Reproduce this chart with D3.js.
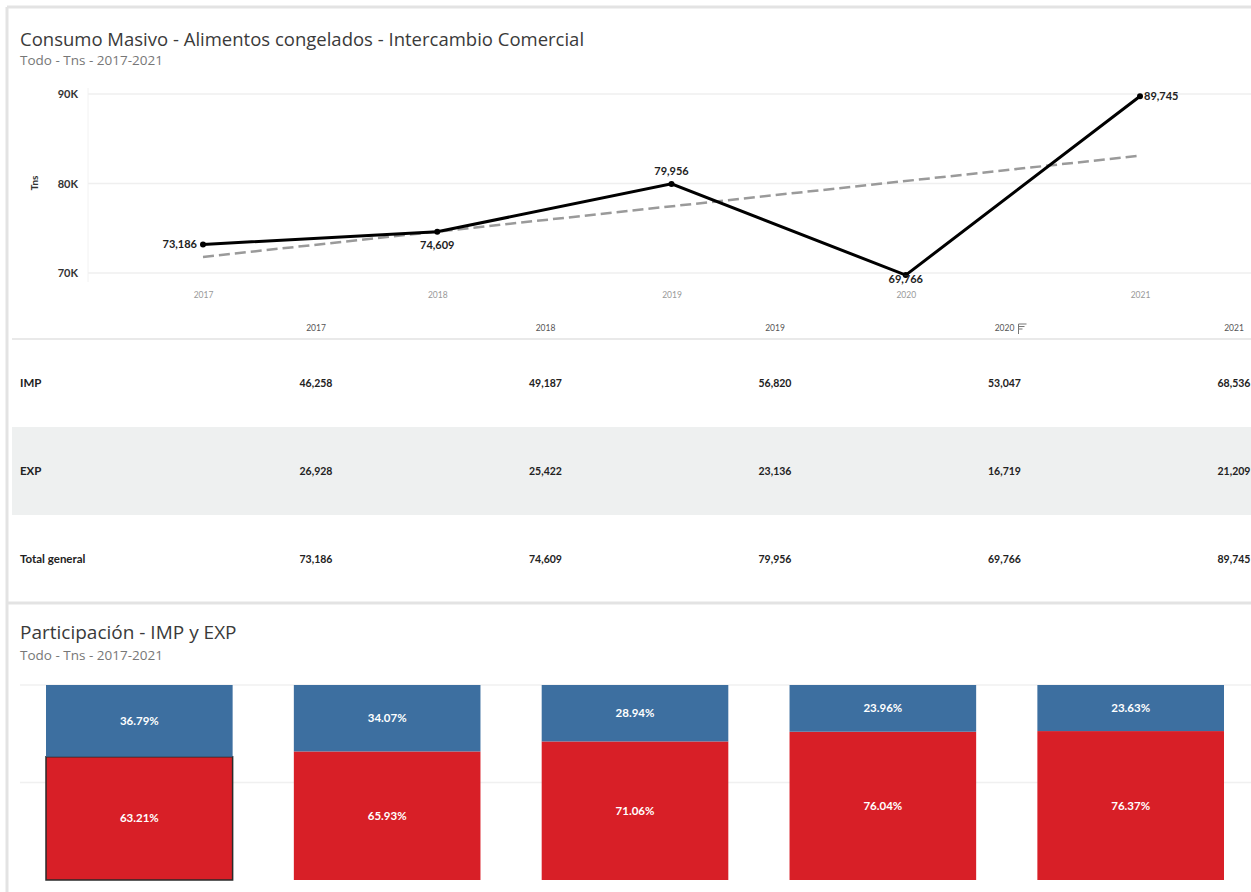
<!DOCTYPE html>
<html><head><meta charset="utf-8">
<script src="https://cdn.jsdelivr.net/npm/d3@7"></script>
<style>
html,body{margin:0;padding:0;background:#fff;}
svg{display:block;font-family:Lato,"Open Sans",sans-serif;}
</style></head>
<body>
<svg id="c" width="1251" height="892"></svg>
<script>
const years = ["2017","2018","2019","2020","2021"];
const impValues = [46258, 49187, 56820, 53047, 68536];
const expValues = [26928, 25422, 23136, 16719, 21209];
const totalValues = [73186, 74609, 79956, 69766, 89745];
const expShare = [36.79, 34.07, 28.94, 23.96, 23.63];
const impShare = [63.21, 65.93, 71.06, 76.04, 76.37];
const yTicks = [70000, 80000, 90000];
const rowLabels = ["IMP", "EXP", "Total general"];

const svg = d3.select("#c");
const fmt = d3.format(",");
const titleFont = "'Open Sans',sans-serif";

// frame
svg.append("rect").attr("x",0).attr("y",0).attr("width",1251).attr("height",892).attr("fill","#fff");
svg.append("line").attr("x1",7).attr("x2",1251).attr("y1",7).attr("y2",7).attr("stroke","#e3e3e3").attr("stroke-width",3);
svg.append("line").attr("x1",7).attr("x2",7).attr("y1",7).attr("y2",892).attr("stroke","#e3e3e3").attr("stroke-width",3);

// titles
svg.append("text").attr("x",20).attr("y",46).attr("font-family",titleFont).attr("font-size",18.5).attr("fill","#3a3a3a").text("Consumo Masivo - Alimentos congelados - Intercambio Comercial");
svg.append("text").attr("x",20).attr("y",65).attr("font-family",titleFont).attr("font-size",13.5).attr("fill","#777").text("Todo - Tns - 2017-2021");

// ---- line chart
const x = d3.scalePoint().domain(years).range([203, 1140]);
const y = d3.scaleLinear().domain([70000, 90000]).range([273, 94]);

const g = svg.append("g");
g.selectAll("line.grid").data(yTicks).join("line")
  .attr("x1",88).attr("x2",1251).attr("y1",d=>y(d)).attr("y2",d=>y(d))
  .attr("stroke","#efefef").attr("stroke-width",1.5);
g.append("line").attr("x1",88).attr("x2",88).attr("y1",88).attr("y2",282).attr("stroke","#f2f2f2");

const yAxis = d3.axisLeft(y).tickValues(yTicks).tickFormat(d=>(d/1000)+"K").tickSize(0).tickPadding(0);
const ya = g.append("g").attr("transform","translate(78,0)").call(yAxis);
ya.select(".domain").remove();
ya.selectAll("text").attr("font-size",11).attr("font-weight","bold").attr("fill","#333").attr("font-family","Lato,sans-serif");

g.append("text").attr("transform","translate(38,183) rotate(-90)").attr("text-anchor","middle")
  .attr("font-size",10).attr("font-weight","bold").attr("fill","#333").text("Tns");

const xAxis = d3.axisBottom(x).tickSize(0).tickPadding(0);
const xa = g.append("g").attr("transform","translate(0,292)").call(xAxis);
xa.select(".domain").remove();
xa.selectAll("text").attr("font-size",8.5).attr("fill","#999").attr("font-family","Lato,sans-serif");

// trend line (least squares over the series)
const n = totalValues.length;
const xi = d3.range(n);
const mx = d3.mean(xi), my = d3.mean(totalValues);
const slope = d3.sum(xi, i => (i-mx)*(totalValues[i]-my)) / d3.sum(xi, i => (i-mx)*(i-mx));
const icpt = my - slope*mx;
g.append("line")
  .attr("x1", x(years[0])).attr("y1", y(icpt))
  .attr("x2", x(years[n-1])).attr("y2", y(icpt + slope*(n-1)))
  .attr("stroke","#9a9a9a").attr("stroke-width",2.5).attr("stroke-dasharray","11,5");

const pts = years.map((yr,i)=>({yr, v: totalValues[i]}));
g.append("path").datum(pts)
  .attr("d", d3.line().x(d=>x(d.yr)).y(d=>y(d.v)))
  .attr("fill","none").attr("stroke","#000").attr("stroke-width",3).attr("stroke-linejoin","miter");
g.selectAll("circle.pt").data(pts).join("circle")
  .attr("cx",d=>x(d.yr)).attr("cy",d=>y(d.v)).attr("r",3).attr("fill","#000");

const labelPos = [
  {dx:-6, dy:4, anchor:"end"},
  {dx:0, dy:17, anchor:"middle"},
  {dx:0, dy:-9, anchor:"middle"},
  {dx:0, dy:8, anchor:"middle"},
  {dx:4, dy:4, anchor:"start"}
];
g.selectAll("text.lbl").data(pts).join("text")
  .attr("x",(d,i)=>x(d.yr)+labelPos[i].dx).attr("y",(d,i)=>y(d.v)+labelPos[i].dy)
  .attr("text-anchor",(d,i)=>labelPos[i].anchor)
  .attr("font-size",11).attr("font-weight","bold").attr("fill","#222").text(d=>fmt(d.v));

// ---- table
const tx = d3.scalePoint().domain(years).range([316, 1234]);
const t = svg.append("g");
t.selectAll("text.hdr").data(years).join("text")
  .attr("x",d=>tx(d)).attr("y",331).attr("text-anchor","middle")
  .attr("font-size",8.5).attr("fill","#555").text(d=>d);
// filter icon beside 2020
const fxp = tx("2020")+14;
[[0,8],[1,6],[2,4]].forEach(([k,w])=>{
  t.append("line").attr("x1",fxp).attr("x2",fxp+w).attr("y1",324+k*2.5).attr("y2",324+k*2.5).attr("stroke","#777").attr("stroke-width",1);
});
t.append("line").attr("x1",fxp).attr("x2",fxp).attr("y1",324).attr("y2",334).attr("stroke","#777");
t.append("line").attr("x1",12).attr("x2",1251).attr("y1",339).attr("y2",339).attr("stroke","#e2e2e2").attr("stroke-width",1.5);

const rows = [impValues, expValues, totalValues];
const rowY = d3.scalePoint().domain(rowLabels).range([383, 559]);
t.append("rect").attr("x",12).attr("y",rowY("EXP")-44).attr("width",1239).attr("height",88).attr("fill","#eef0f0");
rowLabels.forEach((lab, r) => {
  t.append("text").attr("x",20).attr("y",rowY(lab)+4).attr("font-size",11.5).attr("font-weight","bold").attr("fill","#222").text(lab);
  t.selectAll("text.v"+r).data(rows[r]).join("text")
    .attr("x",(d,i)=>tx(years[i])).attr("y",rowY(lab)+4).attr("text-anchor","middle")
    .attr("font-size",10.5).attr("font-weight","bold").attr("fill","#222").text(d=>fmt(d));
});
t.append("line").attr("x1",7).attr("x2",1251).attr("y1",603).attr("y2",603).attr("stroke","#e3e3e3").attr("stroke-width",3);

// ---- participation bars
svg.append("text").attr("x",20).attr("y",639).attr("font-family",titleFont).attr("font-size",19).attr("fill","#3a3a3a").text("Participación - IMP y EXP");
svg.append("text").attr("x",20).attr("y",660).attr("font-family",titleFont).attr("font-size",13.5).attr("fill","#777").text("Todo - Tns - 2017-2021");

const bx = d3.scaleBand().domain(years).range([46, 1224]).paddingInner(0.247).paddingOuter(0);
const by = d3.scaleLinear().domain([0, 100]).range([880, 685]);
const b = svg.append("g");
[50, 100].forEach(v => {
  b.append("line").attr("x1",20).attr("x2",1251).attr("y1",by(v)).attr("y2",by(v)).attr("stroke","#f0f0f0").attr("stroke-width",1.5);
});
const bars = years.map((yr,i)=>({yr, imp: impShare[i], exp: expShare[i]}));
b.selectAll("rect.imp").data(bars).join("rect")
  .attr("x",d=>bx(d.yr)).attr("width",bx.bandwidth())
  .attr("y",d=>by(d.imp)).attr("height",d=>by(0)-by(d.imp))
  .attr("fill","#d81f27")
  .attr("stroke",(d,i)=>i===0?"#2a2a2a":"none").attr("stroke-width",1.5);
b.selectAll("rect.exp").data(bars).join("rect")
  .attr("x",d=>bx(d.yr)).attr("width",bx.bandwidth())
  .attr("y",d=>by(d.imp+d.exp)).attr("height",d=>by(d.imp)-by(d.imp+d.exp))
  .attr("fill","#3d6fa0");
b.selectAll("text.expl").data(bars).join("text")
  .attr("x",d=>bx(d.yr)+bx.bandwidth()/2).attr("y",d=>(by(d.imp+d.exp)+by(d.imp))/2+4)
  .attr("text-anchor","middle").attr("font-size",11.5).attr("font-weight","bold").attr("fill","#fff")
  .text(d=>d.exp.toFixed(2)+"%");
b.selectAll("text.impl").data(bars).join("text")
  .attr("x",d=>bx(d.yr)+bx.bandwidth()/2).attr("y",d=>(by(d.imp)+by(0))/2+4)
  .attr("text-anchor","middle").attr("font-size",11.5).attr("font-weight","bold").attr("fill","#fff")
  .text(d=>d.imp.toFixed(2)+"%");
</script>
</body></html>
